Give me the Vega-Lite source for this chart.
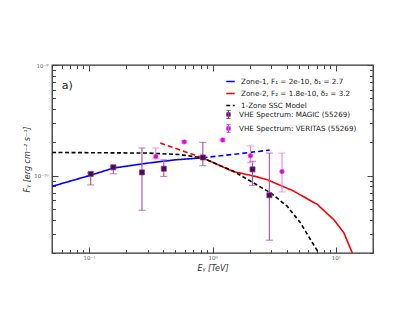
{
  "$schema": "https://vega.github.io/schema/vega-lite/v6.json",
  "width": 321,
  "height": 188,
  "autosize": "none",
  "padding": {"left": 52, "top": 65, "right": 42, "bottom": 68},
  "background": "white",
  "config": {
    "view": {"stroke": "#333", "strokeWidth": 1.3},
    "font": "DejaVu Sans",
    "axis": {"grid": false, "domain": false, "tickColor": "#444", "tickWidth": 1, "zindex": 1}
  },
  "datasets": {
    "curves": [
      {"key": "Zone-1, F₁ = 2e-10, δ₁ = 2.7", "E": 0.05, "F": 8.0e-11},
      {"key": "Zone-1, F₁ = 2e-10, δ₁ = 2.7", "E": 0.1, "F": 1.0e-10},
      {"key": "Zone-1, F₁ = 2e-10, δ₁ = 2.7", "E": 0.157, "F": 1.17e-10},
      {"key": "Zone-1, F₁ = 2e-10, δ₁ = 2.7", "E": 0.3, "F": 1.3e-10},
      {"key": "Zone-1, F₁ = 2e-10, δ₁ = 2.7", "E": 0.5, "F": 1.39e-10},
      {"key": "Zone-1, F₁ = 2e-10, δ₁ = 2.7", "E": 0.83, "F": 1.45e-10},
      {"key": "Zone-1 extrapolated", "E": 0.83, "F": 1.45e-10},
      {"key": "Zone-1 extrapolated", "E": 1.5, "F": 1.56e-10},
      {"key": "Zone-1 extrapolated", "E": 2.0, "F": 1.62e-10},
      {"key": "Zone-1 extrapolated", "E": 2.9, "F": 1.7e-10},
      {"key": "Zone-2 extrapolated", "E": 0.377, "F": 1.97e-10},
      {"key": "Zone-2 extrapolated", "E": 0.55, "F": 1.7e-10},
      {"key": "Zone-2 extrapolated", "E": 0.83, "F": 1.45e-10},
      {"key": "Zone-2, F₂ = 1.8e-10, δ₂ = 3.2", "E": 0.83, "F": 1.45e-10},
      {"key": "Zone-2, F₂ = 1.8e-10, δ₂ = 3.2", "E": 1.47, "F": 1.09e-10},
      {"key": "Zone-2, F₂ = 1.8e-10, δ₂ = 3.2", "E": 2.22, "F": 9.85e-11},
      {"key": "Zone-2, F₂ = 1.8e-10, δ₂ = 3.2", "E": 2.77, "F": 9.2e-11},
      {"key": "Zone-2, F₂ = 1.8e-10, δ₂ = 3.2", "E": 4.5, "F": 7.3e-11},
      {"key": "Zone-2, F₂ = 1.8e-10, δ₂ = 3.2", "E": 7.06, "F": 5.5e-11},
      {"key": "Zone-2, F₂ = 1.8e-10, δ₂ = 3.2", "E": 9.63, "F": 4.0e-11},
      {"key": "Zone-2, F₂ = 1.8e-10, δ₂ = 3.2", "E": 11.6, "F": 3.05e-11},
      {"key": "Zone-2, F₂ = 1.8e-10, δ₂ = 3.2", "E": 13.6, "F": 2.0e-11},
      {"key": "1-Zone SSC Model", "E": 0.05, "F": 1.62e-10},
      {"key": "1-Zone SSC Model", "E": 0.3, "F": 1.6e-10},
      {"key": "1-Zone SSC Model", "E": 0.546, "F": 1.55e-10},
      {"key": "1-Zone SSC Model", "E": 0.83, "F": 1.45e-10},
      {"key": "1-Zone SSC Model", "E": 1.1, "F": 1.26e-10},
      {"key": "1-Zone SSC Model", "E": 1.45, "F": 1.11e-10},
      {"key": "1-Zone SSC Model", "E": 2.15, "F": 8.6e-11},
      {"key": "1-Zone SSC Model", "E": 2.95, "F": 7.0e-11},
      {"key": "1-Zone SSC Model", "E": 4.03, "F": 5.3e-11},
      {"key": "1-Zone SSC Model", "E": 5.16, "F": 3.75e-11},
      {"key": "1-Zone SSC Model", "E": 6.22, "F": 2.65e-11},
      {"key": "1-Zone SSC Model", "E": 7.27, "F": 2.0e-11}
    ],
    "obs": [
      {"set": "MAGIC", "E": 0.103, "F": 1.036e-10, "lo": 8.25e-11, "hi": 1.06e-10},
      {"set": "MAGIC", "E": 0.157, "F": 1.19e-10, "lo": 1.04e-10, "hi": 1.21e-10},
      {"set": "MAGIC", "E": 0.268, "F": 1.07e-10, "lo": 4.87e-11, "hi": 1.78e-10},
      {"set": "MAGIC", "E": 0.403, "F": 1.156e-10, "lo": 9.85e-11, "hi": 1.39e-10},
      {"set": "MAGIC", "E": 0.835, "F": 1.46e-10, "lo": 1.23e-10, "hi": 2.0e-10},
      {"set": "MAGIC", "E": 2.11, "F": 1.14e-10, "lo": 8.18e-11, "hi": 1.35e-10},
      {"set": "MAGIC", "E": 2.89, "F": 6.65e-11, "lo": 2.61e-11, "hi": 1.6e-10},
      {"set": "VERITAS", "E": 0.347, "F": 1.49e-10, "lo": 1.42e-10, "hi": 1.78e-10},
      {"set": "VERITAS", "E": 0.59, "F": 2.02e-10, "lo": 1.97e-10, "hi": 2.07e-10},
      {"set": "VERITAS", "E": 1.21, "F": 2.1e-10, "lo": 2.05e-10, "hi": 2.15e-10},
      {"set": "VERITAS", "E": 2.03, "F": 1.51e-10, "lo": 1.31e-10, "hi": 1.86e-10},
      {"set": "VERITAS", "E": 3.66, "F": 1.09e-10, "lo": 7.13e-11, "hi": 1.6e-10}
    ],
    "label": [{"E": 0.06, "F": 6.5e-10, "t": "a)"}]
  },
  "resolve": {"axis": {"x": "independent", "y": "independent"}},
  "layer": [
    {
      "data": {"name": "curves"},
      "mark": {"type": "line", "strokeWidth": 1.6},
      "encoding": {
        "x": {"field": "E", "type": "quantitative",
          "scale": {"type": "log", "domain": [0.05, 20], "nice": false},
          "axis": {"orient": "bottom", "values": [0.1, 1, 10], "offset": -6, "tickSize": 6,
            "labelExpr": "datum.value < 0.5 ? '10⁻¹' : datum.value < 5 ? '10⁰' : '10¹'",
            "labelFont": "DejaVu Serif", "labelFontSize": 5.5, "labelColor": "#555", "labelPadding": 2,
            "title": "Eᵧ [TeV]", "titleFontSize": 8, "titleFontStyle": "italic", "titleFontWeight": "normal", "titleColor": "#333", "titlePadding": 4}},
        "y": {"field": "F", "type": "quantitative",
          "scale": {"type": "log", "domain": [2e-11, 1e-9], "nice": false},
          "axis": {"orient": "left", "values": [1e-10, 1e-9], "offset": -6, "tickSize": 6,
            "labelExpr": "datum.value < 5e-10 ? '10⁻¹⁰' : '10⁻⁹'",
            "labelFont": "DejaVu Serif", "labelFontSize": 5.5, "labelColor": "#555", "labelPadding": 4,
            "title": "Fᵧ [erg cm⁻² s⁻¹]", "titleFontSize": 8, "titleFontStyle": "italic", "titleFontWeight": "normal", "titleColor": "#333", "titlePadding": 2}},
        "color": {"field": "key", "type": "nominal",
          "scale": {"domain": ["Zone-1, F₁ = 2e-10, δ₁ = 2.7", "Zone-2, F₂ = 1.8e-10, δ₂ = 3.2", "1-Zone SSC Model", "Zone-1 extrapolated", "Zone-2 extrapolated"],
            "range": ["#0000ff", "#ff0000", "#000000", "#0000ff", "#ff0000"]},
          "legend": {"title": null, "orient": "none", "legendX": 170, "legendY": 8, "values": ["Zone-1, F₁ = 2e-10, δ₁ = 2.7", "Zone-2, F₂ = 1.8e-10, δ₂ = 3.2", "1-Zone SSC Model"],
            "labelFontSize": 7.2, "labelColor": "#222", "labelOffset": 6,
            "symbolType": "M-1.2,0H1.2", "symbolSize": 50, "symbolStrokeWidth": 1.6, "rowPadding": 4,
            "padding": 4, "fillColor": "white"}},
        "strokeDash": {"field": "key", "type": "nominal",
          "scale": {"domain": ["Zone-1, F₁ = 2e-10, δ₁ = 2.7", "Zone-2, F₂ = 1.8e-10, δ₂ = 3.2", "1-Zone SSC Model", "Zone-1 extrapolated", "Zone-2 extrapolated"],
            "range": [[1, 0], [1, 0], [4, 2.5], [5, 3], [5, 3]]},
          "legend": {"title": null, "orient": "none", "legendX": 170, "legendY": 8, "values": ["Zone-1, F₁ = 2e-10, δ₁ = 2.7", "Zone-2, F₂ = 1.8e-10, δ₂ = 3.2", "1-Zone SSC Model"],
            "labelFontSize": 7.2, "labelColor": "#222", "labelOffset": 6,
            "symbolType": "M-1.2,0H1.2", "symbolSize": 50, "symbolStrokeWidth": 1.6, "rowPadding": 4,
            "padding": 4, "fillColor": "white"}}
      }
    },
    {
      "data": {"name": "obs"},
      "transform": [{"filter": "datum.set === 'MAGIC'"}],
      "mark": {"type": "rule", "color": "#a552a5", "strokeWidth": 1.1},
      "encoding": {
        "x": {"field": "E", "type": "quantitative",
          "scale": {"type": "log", "domain": [0.05, 20], "nice": false},
          "axis": {"orient": "bottom", "values": [0.05, 0.06, 0.07, 0.08, 0.09, 0.2, 0.3, 0.4, 0.5, 0.6, 0.7, 0.8, 0.9, 2, 3, 4, 5, 6, 7, 8, 9, 20],
            "offset": -3.5, "tickSize": 3.5, "labels": false, "title": null}},
        "y": {"field": "lo", "type": "quantitative",
          "scale": {"type": "log", "domain": [2e-11, 1e-9], "nice": false},
          "axis": {"orient": "left", "values": [2e-11, 3e-11, 4e-11, 5e-11, 6e-11, 7e-11, 8e-11, 9e-11, 2e-10, 3e-10, 4e-10, 5e-10, 6e-10, 7e-10, 8e-10, 9e-10],
            "offset": -3.5, "tickSize": 3.5, "labels": false, "title": null}},
        "y2": {"field": "hi"}
      }
    },
    {
      "data": {"name": "obs"},
      "transform": [{"filter": "datum.set === 'VERITAS'"}],
      "mark": {"type": "rule", "color": "#f07ef0", "strokeWidth": 1.1},
      "encoding": {
        "x": {"field": "E", "type": "quantitative",
          "scale": {"type": "log", "domain": [0.05, 20], "nice": false},
          "axis": {"orient": "top", "values": [0.1, 1, 10], "offset": -6, "tickSize": 6, "labels": false, "title": null}},
        "y": {"field": "lo", "type": "quantitative",
          "scale": {"type": "log", "domain": [2e-11, 1e-9], "nice": false},
          "axis": {"orient": "right", "values": [1e-10, 1e-9], "offset": -6, "tickSize": 6, "labels": false, "title": null}},
        "y2": {"field": "hi"}
      }
    },
    {
      "data": {"name": "obs"},
      "transform": [{"filter": "datum.set === 'MAGIC'"}, {"fold": ["lo", "hi"], "as": ["end", "val"]}],
      "mark": {"type": "tick", "orient": "horizontal", "color": "#a552a5", "size": 7, "thickness": 1.1},
      "encoding": {
        "x": {"field": "E", "type": "quantitative",
          "scale": {"type": "log", "domain": [0.05, 20], "nice": false},
          "axis": {"orient": "top", "values": [0.05, 0.06, 0.07, 0.08, 0.09, 0.2, 0.3, 0.4, 0.5, 0.6, 0.7, 0.8, 0.9, 2, 3, 4, 5, 6, 7, 8, 9, 20],
            "offset": -3.5, "tickSize": 3.5, "labels": false, "title": null}},
        "y": {"field": "val", "type": "quantitative",
          "scale": {"type": "log", "domain": [2e-11, 1e-9], "nice": false},
          "axis": {"orient": "right", "values": [2e-11, 3e-11, 4e-11, 5e-11, 6e-11, 7e-11, 8e-11, 9e-11, 2e-10, 3e-10, 4e-10, 5e-10, 6e-10, 7e-10, 8e-10, 9e-10],
            "offset": -3.5, "tickSize": 3.5, "labels": false, "title": null}}
      }
    },
    {
      "data": {"name": "obs"},
      "transform": [{"filter": "datum.set === 'VERITAS'"}, {"fold": ["lo", "hi"], "as": ["end", "val"]}],
      "mark": {"type": "tick", "orient": "horizontal", "color": "#f07ef0", "size": 7, "thickness": 1.1},
      "encoding": {
        "x": {"field": "E", "type": "quantitative", "scale": {"type": "log", "domain": [0.05, 20], "nice": false}, "axis": null},
        "y": {"field": "val", "type": "quantitative", "scale": {"type": "log", "domain": [2e-11, 1e-9], "nice": false}, "axis": null}
      }
    },
    {
      "data": {"name": "obs"},
      "transform": [{"filter": "datum.set === 'MAGIC'"}],
      "mark": {"type": "point", "shape": "square", "filled": true, "size": 26, "strokeWidth": 0.7, "opacity": 1},
      "encoding": {
        "x": {"field": "E", "type": "quantitative", "scale": {"type": "log", "domain": [0.05, 20], "nice": false}, "axis": null},
        "y": {"field": "F", "type": "quantitative", "scale": {"type": "log", "domain": [2e-11, 1e-9], "nice": false}, "axis": null},
        "fill": {"field": "set", "type": "nominal",
          "scale": {"domain": ["MAGIC", "VERITAS"], "range": ["#4a0a4f", "#e000e0"]},
          "legend": {"title": null, "orient": "none", "legendX": 170, "legendY": 43,
            "labelExpr": "'VHE Spectrum: ' + datum.label + ' (55269)'",
            "labelFontSize": 7.2, "labelColor": "#222", "labelOffset": 6,
            "symbolType": "M-0.6,-1.1H0.6M0,-1.1V1.1M-0.6,1.1H0.6M-0.5,-0.5H0.5V0.5H-0.5Z", "symbolSize": 50, "symbolStrokeWidth": 1, "rowPadding": 1,
            "padding": 2, "fillColor": "white"}},
        "stroke": {"field": "set", "type": "nominal",
          "scale": {"domain": ["MAGIC", "VERITAS"], "range": ["#8a3a8a", "#d050d0"]},
          "legend": {"title": null, "orient": "none", "legendX": 170, "legendY": 43,
            "labelExpr": "'VHE Spectrum: ' + datum.label + ' (55269)'",
            "labelFontSize": 7.2, "labelColor": "#222", "labelOffset": 6,
            "symbolType": "M-0.6,-1.1H0.6M0,-1.1V1.1M-0.6,1.1H0.6M-0.5,-0.5H0.5V0.5H-0.5Z", "symbolSize": 50, "symbolStrokeWidth": 1, "rowPadding": 1,
            "padding": 2, "fillColor": "white"}}
      }
    },
    {
      "data": {"name": "obs"},
      "transform": [{"filter": "datum.set === 'VERITAS'"}],
      "mark": {"type": "point", "shape": "circle", "filled": true, "size": 20, "strokeWidth": 0.7, "opacity": 1},
      "encoding": {
        "x": {"field": "E", "type": "quantitative", "scale": {"type": "log", "domain": [0.05, 20], "nice": false}, "axis": null},
        "y": {"field": "F", "type": "quantitative", "scale": {"type": "log", "domain": [2e-11, 1e-9], "nice": false}, "axis": null},
        "fill": {"field": "set", "type": "nominal"},
        "stroke": {"field": "set", "type": "nominal"}
      }
    },
    {
      "data": {"name": "label"},
      "mark": {"type": "text", "align": "left", "baseline": "middle", "fontSize": 11, "color": "#222"},
      "encoding": {
        "x": {"field": "E", "type": "quantitative", "scale": {"type": "log", "domain": [0.05, 20], "nice": false}, "axis": null},
        "y": {"field": "F", "type": "quantitative", "scale": {"type": "log", "domain": [2e-11, 1e-9], "nice": false}, "axis": null},
        "text": {"field": "t"}
      }
    }
  ]
}
